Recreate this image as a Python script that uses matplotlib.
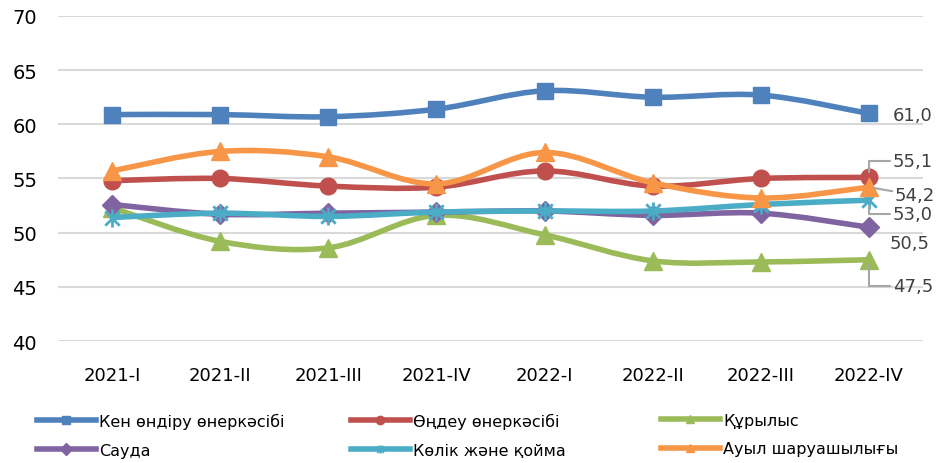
import matplotlib
matplotlib.use('Agg')
import matplotlib.pyplot as plt
from matplotlib.path import Path
from matplotlib.patches import PathPatch
from matplotlib.lines import Line2D

plt.rcParams['font.family'] = ['DejaVu Sans']

quarters = ['2021-I', '2021-II', '2021-III', '2021-IV',
            '2022-I', '2022-II', '2022-III', '2022-IV']

names = ['Кен өндіру өнеркәсібі', 'Өңдеу өнеркәсібі', 'Құрылыс',
         'Сауда', 'Көлік және қойма', 'Ауыл шаруашылығы']

mining = [60.9, 60.9, 60.7, 61.4, 63.1, 62.5, 62.7, 61.0]
manufacturing = [54.8, 55.0, 54.3, 54.2, 55.7, 54.3, 55.0, 55.1]
construction = [52.3, 49.2, 48.6, 51.6, 49.8, 47.4, 47.3, 47.5]
trade = [52.6, 51.7, 51.8, 51.9, 52.0, 51.6, 51.8, 50.5]
transport = [51.4, 51.8, 51.5, 51.9, 52.0, 52.0, 52.6, 53.0]
agriculture = [55.7, 57.5, 57.0, 54.5, 57.4, 54.6, 53.2, 54.2]

series = [mining, manufacturing, construction, trade, transport, agriculture]
colors = ['#4F81BD', '#C0504D', '#9BBB59', '#8064A2', '#4BACC6', '#F79646']

# excel style star marker: x plus vertical bar
star = Path([(0, -1), (0, 1), (-0.8, -0.8), (0.8, 0.8), (-0.8, 0.8), (0.8, -0.8)],
            [Path.MOVETO, Path.LINETO, Path.MOVETO, Path.LINETO, Path.MOVETO, Path.LINETO])
markers = ['s', 'o', '^', 'D', star, '^']
msizes = [11, 12, 13, 10, 13, 13]

# last-point labels (same order as series): offset in pixels, leader style
elbow = 'angle,angleA=0,angleB=90'
label_offsets = [(24, -2), (24, 16), (24, -26), (21, -16), (24, -14), (26, -8)]
leaders = [None, elbow, elbow, None, elbow, 'arc3']


def smooth_path(xs, ys):
    # catmull-rom -> cubic bezier, like excel's smoothed line
    pts = list(zip(xs, ys))
    verts = [pts[0]]
    codes = [Path.MOVETO]
    n = len(pts)
    for i in range(n - 1):
        p0 = pts[max(i - 1, 0)]
        p1 = pts[i]
        p2 = pts[i + 1]
        p3 = pts[min(i + 2, n - 1)]
        c1 = (p1[0] + (p2[0] - p0[0]) / 6, p1[1] + (p2[1] - p0[1]) / 6)
        c2 = (p2[0] - (p3[0] - p1[0]) / 6, p2[1] - (p3[1] - p1[1]) / 6)
        verts += [c1, c2, p2]
        codes += [Path.CURVE4] * 3
    return Path(verts, codes)


fig = plt.figure(figsize=(9.4, 4.64), dpi=100)
ax = fig.add_axes([0.0617, 0.2629, 0.9203, 0.7005])

x = list(range(len(quarters)))
handles = []
for i, (vals, c, m, ms) in enumerate(zip(series, colors, markers, msizes)):
    z = 3 + i
    ax.add_patch(PathPatch(smooth_path(x, vals), fill=False, edgecolor=c, lw=4,
                           capstyle='round', joinstyle='round', zorder=z))
    if m is star:
        ax.plot(x, vals, ls='none', marker=m, ms=ms, mfc='none', mec=c, mew=2, zorder=z)
    else:
        ax.plot(x, vals, ls='none', marker=m, ms=ms, color=c, mec=c, zorder=z)
    handles.append(Line2D([], [], color=c, lw=4, marker=m, ms=6,
                          mew=1.5 if m is star else 1, mfc=c, mec=c))

    txt = f'{vals[-1]:.1f}'.replace('.', ',')
    arrow = None
    if leaders[i]:
        arrow = dict(arrowstyle='-', color='#A6A6A6', lw=1.5,
                     shrinkA=0, shrinkB=4, connectionstyle=leaders[i])
    ax.annotate(txt, xy=(x[-1], vals[-1]), xytext=label_offsets[i],
                textcoords='offset pixels', ha='left', va='center',
                fontsize=13, color='#404040', arrowprops=arrow, zorder=10)

ax.set_xlim(-0.5, len(quarters) - 0.5)
ax.set_ylim(40, 70)
ax.set_yticks(range(40, 71, 5))
ax.set_xticks(x)
ax.set_xticklabels(quarters)
ax.tick_params(axis='y', length=0, pad=15, labelsize=14, labelcolor='#000000')
ax.tick_params(axis='x', length=0, pad=18, labelsize=13, labelcolor='#000000')
ax.grid(axis='y', color='#D9D9D9', lw=1.5)
ax.set_axisbelow(True)
for s in ax.spines.values():
    s.set_visible(False)

# legend: three columns placed by hand
col_x = [0.039, 0.373, 0.703]
for k in range(3):
    hs = [handles[k], handles[k + 3]]
    ls = [names[k], names[k + 3]]
    fig.legend(hs, ls, loc='upper left', bbox_to_anchor=(col_x[k], 0.108),
               frameon=False, fontsize=11.5, handlelength=3.7, handletextpad=0.2,
               labelspacing=0.85, borderaxespad=0, borderpad=0)

fig.savefig('out.png', dpi=100)
